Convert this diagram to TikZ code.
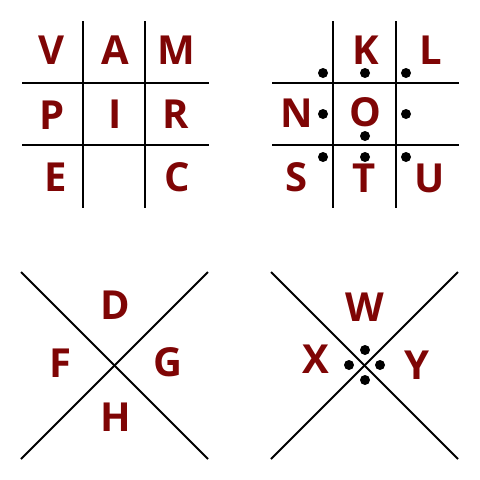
\documentclass[tikz,border=0pt]{standalone}
\usepackage{fontspec}
\setsansfont{Open Sans}
\usepackage{tikz}
\definecolor{cipherred}{HTML}{7F0505}

\begin{document}
\begin{tikzpicture}[x=1pt,y=-1pt,
		letter/.style={inner sep=0pt,text=cipherred,font=\sffamily\bfseries\fontsize{40}{40}\selectfont},
		gridline/.style={line width=1.9pt,black},
		pigdot/.style={circle,fill=black,inner sep=0pt,minimum size=10pt}]
			\useasboundingbox (0,0) rectangle (480,480);
			% first grid
			\coordinate (g1t1) at (83,21); \coordinate (g1b1) at (83,208);
			\coordinate (g1t2) at (145,21); \coordinate (g1b2) at (145,208);
			\coordinate (g1l1) at (22,83); \coordinate (g1r1) at (209,83);
			\coordinate (g1l2) at (22,145); \coordinate (g1r2) at (209,145);
			\draw[gridline] (g1t1) -- (g1b1);
			\draw[gridline] (g1t2) -- (g1b2);
			\draw[gridline] (g1l1) -- (g1r1);
			\draw[gridline] (g1l2) -- (g1r2);
			\node[letter] (V) at (51,50) {V};
			\node[letter] (A) at (115,50) {A};
			\node[letter] (M) at (176,50) {M};
			\node[letter] (P) at (52,115) {P};
			\node[letter] (I) at (115,114) {I};
			\node[letter] (R) at (176,114) {R};
			\node[letter] (E) at (56,177) {E};
			\node[letter] (C) at (177,177) {C};
			% second grid with dots
			\coordinate (g2t1) at (333,21); \coordinate (g2b1) at (333,208);
			\coordinate (g2t2) at (396,21); \coordinate (g2b2) at (396,208);
			\coordinate (g2l1) at (272,83); \coordinate (g2r1) at (459,83);
			\coordinate (g2l2) at (272,145); \coordinate (g2r2) at (459,145);
			\draw[gridline] (g2t1) -- (g2b1);
			\draw[gridline] (g2t2) -- (g2b2);
			\draw[gridline] (g2l1) -- (g2r1);
			\draw[gridline] (g2l2) -- (g2r2);
			\node[letter] (K) at (366,50) {K};
			\node[letter] (L) at (431,50) {L};
			\node[letter] (N) at (297,113) {N};
			\node[letter] (O) at (365,112) {O};
			\node[letter] (S) at (297,177) {S};
			\node[letter] (T) at (364,178) {T};
			\node[letter] (U) at (430,178) {U};
			\node[pigdot] (dJ) at (323,73) {};
			\node[pigdot] (dK) at (365,73) {};
			\node[pigdot] (dL) at (406,73) {};
			\node[pigdot] (dN) at (323,114) {};
			\node[pigdot] (dO) at (365,136) {};
			\node[pigdot] (dQ) at (406,114) {};
			\node[pigdot] (dS) at (323,157) {};
			\node[pigdot] (dT) at (365,157) {};
			\node[pigdot] (dU) at (406,157) {};
			% first cross
			\coordinate (x1a) at (21,272); \coordinate (x1b) at (208,459);
			\coordinate (x1c) at (208,272); \coordinate (x1d) at (21,459);
			\draw[gridline] (x1a) -- (x1b);
			\draw[gridline] (x1c) -- (x1d);
			\node[letter] (D) at (115,305) {D};
			\node[letter] (F) at (60,363) {F};
			\node[letter] (G) at (168,362) {G};
			\node[letter] (H) at (116,417) {H};
			% second cross with dots
			\coordinate (x2a) at (271,272); \coordinate (x2b) at (458,459);
			\coordinate (x2c) at (458,272); \coordinate (x2d) at (271,459);
			\draw[gridline] (x2a) -- (x2b);
			\draw[gridline] (x2c) -- (x2d);
			\node[letter] (W) at (365,307) {W};
			\node[letter] (X) at (316,359) {X};
			\node[letter] (Y) at (417,365) {Y};
			\node[pigdot] (dW) at (365,350) {};
			\node[pigdot] (dX) at (349,365) {};
			\node[pigdot] (dY) at (380,365) {};
			\node[pigdot] (dZ) at (365,380) {};
		\end{tikzpicture}
\end{document}
